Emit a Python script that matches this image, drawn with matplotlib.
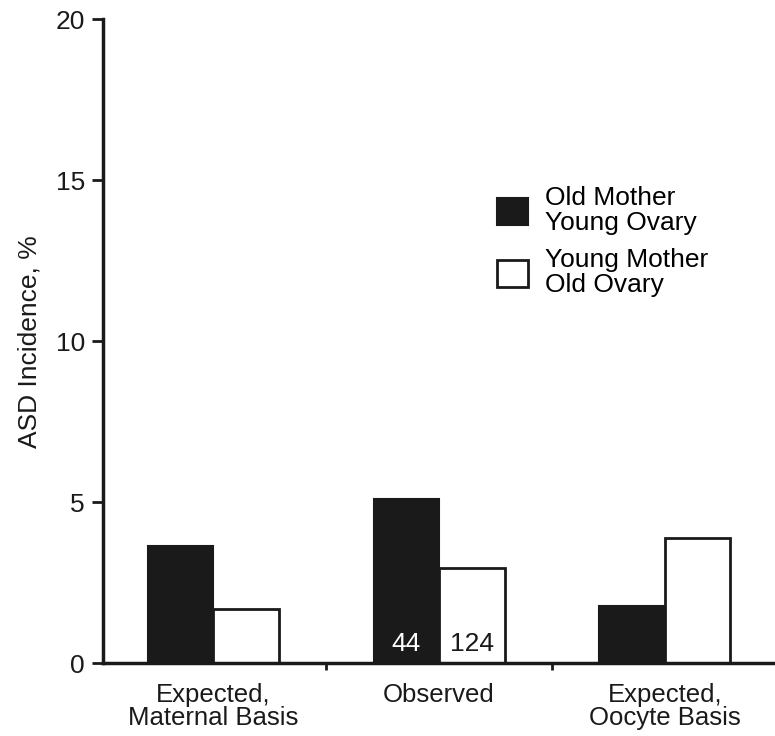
"""Bar chart: expected vs observed ASD incidence by mother/ovary age."""

import matplotlib
matplotlib.use("Agg")
import matplotlib.pyplot as plt
import numpy as np
from matplotlib.patches import Patch

plt.rcParams["font.family"] = ["Liberation Sans", "DejaVu Sans"]

groups = ["Expected,\nMaternal Basis", "Observed", "Expected,\nOocyte Basis"]
old_mother_young_ovary = [3.63, 5.09, 1.77]
young_mother_old_ovary = [1.68, 2.95, 3.88]
observed_counts = ["44", "124"]
series_labels = ["Old Mother\nYoung Ovary", "Young Mother\nOld Ovary"]

dark = "#1a1a1a"
width = 0.29
fs = 19
x = np.arange(len(groups))

fig = plt.figure(figsize=(7.75, 7.36), dpi=100)
ax = fig.add_axes([0.133, 0.099, 0.867, 0.875])

ax.bar(x - width / 2, old_mother_young_ovary, width, color=dark,
       edgecolor=dark, linewidth=1.5)
ax.bar(x + width / 2, young_mother_old_ovary, width, color="white",
       edgecolor=dark, linewidth=2)

# sample sizes inside the observed bars
ax.text(x[1] - width / 2, 0.58, observed_counts[0], color="white",
        ha="center", va="center", fontsize=fs)
ax.text(x[1] + width / 2, 0.58, observed_counts[1], color=dark,
        ha="center", va="center", fontsize=fs)

ax.set_xlim(-0.487, 2.487)
ax.set_ylim(0, 20)
ax.set_yticks([0, 5, 10, 15, 20])
ax.set_xticks(x)
ax.set_xticklabels(groups, fontsize=fs - 0.5, color=dark, linespacing=0.95)
ax.set_xticks([0.5, 1.5], minor=True)
ax.tick_params(axis="x", which="major", length=0, pad=14)
ax.tick_params(axis="x", which="minor", length=5, width=2, color=dark)
ax.tick_params(axis="y", length=8, width=2, color=dark, labelsize=fs,
               labelcolor=dark, pad=5)
ax.set_ylabel("ASD Incidence, %", fontsize=fs, color=dark, labelpad=10)

for side in ("top", "right"):
    ax.spines[side].set_visible(False)
for side in ("left", "bottom"):
    ax.spines[side].set_linewidth(2.5)
    ax.spines[side].set_color(dark)

handles = [Patch(facecolor=dark, edgecolor=dark, linewidth=1.5),
           Patch(facecolor="white", edgecolor=dark, linewidth=2)]
leg = ax.legend(handles, series_labels, frameon=False, fontsize=fs,
                loc="upper left", bbox_to_anchor=(0.57, 0.757),
                handlelength=1.2, handleheight=1.2, handletextpad=0.65,
                labelspacing=0.5, borderaxespad=0)
for t in leg.get_texts():
    t.set_linespacing(1.05)

fig.savefig("out.png", dpi=100)
